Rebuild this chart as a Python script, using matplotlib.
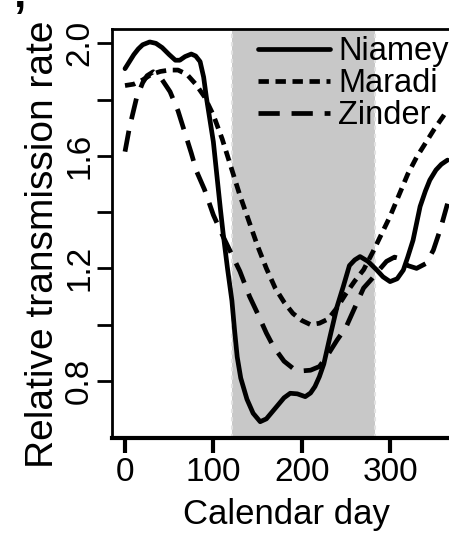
import matplotlib
matplotlib.use("Agg")
import matplotlib.pyplot as plt

plt.rcParams["font.family"] = ["Liberation Sans", "DejaVu Sans"]

# values
niamey_day = [0, 5, 10, 15, 20, 28, 35, 42, 50, 57, 62, 68, 75, 80, 85, 89, 92, 96, 100, 104,
              108, 111, 116, 121, 124, 127, 131, 138, 145, 153, 160, 172, 180, 187, 195, 204,
              210, 215, 220, 225, 232, 240, 247, 254, 260, 266, 275, 285, 292, 300, 308, 315,
              320, 326, 334, 340, 345, 352, 358, 365]
niamey_val = [1.91, 1.935, 1.96, 1.98, 1.995, 2.005, 2.0, 1.985, 1.96, 1.94, 1.94, 1.953, 1.962,
              1.955, 1.935, 1.88, 1.81, 1.73, 1.65, 1.53, 1.41, 1.326, 1.20, 1.085, 0.98, 0.885,
              0.81, 0.735, 0.685, 0.655, 0.665, 0.71, 0.74, 0.756, 0.754, 0.744, 0.757, 0.78,
              0.815, 0.86, 0.957, 1.064, 1.135, 1.21, 1.23, 1.242, 1.225, 1.194, 1.17, 1.153,
              1.163, 1.194, 1.24, 1.30, 1.42, 1.475, 1.514, 1.55, 1.57, 1.585]

maradi_day = [0, 10, 20, 30, 40, 50, 60, 70, 80, 90, 100, 110, 120, 130, 140, 150, 160, 170,
              180, 190, 200, 210, 220, 230, 240, 250, 260, 270, 280, 290, 300, 310, 320, 330,
              340, 350, 360, 365]
maradi_val = [1.85, 1.855, 1.87, 1.89, 1.90, 1.905, 1.905, 1.89, 1.855, 1.81, 1.745, 1.66, 1.56,
              1.46, 1.37, 1.28, 1.20, 1.13, 1.08, 1.04, 1.015, 1.0, 1.005, 1.02, 1.06, 1.11,
              1.155, 1.195, 1.255, 1.32, 1.385, 1.46, 1.535, 1.595, 1.645, 1.695, 1.74, 1.765]

zinder_day = [0, 5, 13, 20, 25, 32, 40, 51, 60, 66, 75, 81, 90, 100, 110, 122, 130, 141, 150,
              160, 168, 180, 190, 198, 210, 220, 230, 240, 250, 260, 270, 280, 285, 296, 305,
              311, 320, 330, 341, 349, 357, 365]
zinder_val = [1.615, 1.70, 1.805, 1.86, 1.885, 1.899, 1.88, 1.828, 1.76, 1.70, 1.61, 1.545, 1.48,
              1.39, 1.32, 1.242, 1.19, 1.10, 1.04, 0.97, 0.922, 0.87, 0.845, 0.835, 0.838, 0.851,
              0.895, 0.945, 0.99, 1.06, 1.13, 1.165, 1.185, 1.225, 1.24, 1.235, 1.21, 1.20,
              1.218, 1.265, 1.34, 1.43]

season = (121, 283)
xtick_vals = [0, 100, 200, 300]
ytick_vals = [0.8, 1.0, 1.2, 1.4, 1.6, 1.8, 2.0]
ytick_labels = ["0.8", "", "1.2", "", "1.6", "", "2.0"]

fig = plt.figure(figsize=(4.49, 5.33), dpi=100)
ax = fig.add_axes([111.75 / 449, 95 / 533, 349 / 449, 409 / 533])

ax.axvspan(season[0], season[1], color="#c8c8c8", lw=0, zorder=0)
for d in season:
    ax.axvline(d, color="#e2e2e2", lw=1.5, ls=(0, (2, 2)), zorder=0.5)

ax.plot(niamey_day, niamey_val, color="black", lw=3.4, label="Niamey", solid_capstyle="round")
ax.plot(maradi_day, maradi_val, color="black", lw=3.4, dashes=(2.2, 1.4), label="Maradi")
ax.plot(zinder_day, zinder_val, color="black", lw=3.4, dashes=(4.5, 2.5), label="Zinder")

ax.set_xlim(-15, 380)
ax.set_ylim(0.597, 2.051)
ax.set_xticks(xtick_vals)
ax.set_yticks(ytick_vals)
ax.set_yticklabels(ytick_labels, rotation=90, va="center")
ax.tick_params(axis="x", length=11, width=3, labelsize=24, pad=3)
ax.tick_params(axis="y", length=11, width=2, labelsize=24, pad=1)

ax.spines["bottom"].set_linewidth(3)
ax.spines["left"].set_linewidth(2)
ax.spines["top"].set_linewidth(2)
ax.spines["right"].set_linewidth(2)

ax.set_xlabel("Calendar day", fontsize=25, labelpad=7)
ax.set_ylabel("Relative transmission rate", fontsize=28)
ax.yaxis.set_label_coords(-0.145, 0.474)

ax.legend(loc="upper left", bbox_to_anchor=(258 / 449, 1 - 36 / 533),
          bbox_transform=fig.transFigure, frameon=False, fontsize=23.5,
          handlelength=2.2, handletextpad=0.25, labelspacing=0.03,
          borderpad=0, borderaxespad=0)

fig.text(20 / 449, 1 - 21 / 533, "\u2019", fontsize=32, fontweight="bold",
         ha="center", va="center")

fig.savefig("out.png", dpi=100)
